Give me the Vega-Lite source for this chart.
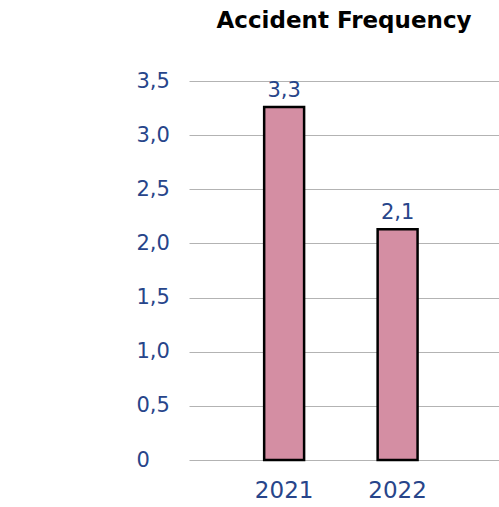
{
  "$schema": "https://vega.github.io/schema/vega-lite/v6.json",
  "autosize": {"type": "none"},
  "padding": {"left": 189, "top": 81, "right": 0, "bottom": 47},
  "width": 310,
  "height": 379,
  "background": "white",
  "title": {"text": "Accident Frequency", "anchor": "middle", "font": "DejaVu Sans", "fontSize": 23, "fontWeight": "bold", "color": "#000000", "offset": 37},
  "data": {"values": [
    {"year": "2021", "value": 3.26},
    {"year": "2022", "value": 2.13}
  ]},
  "config": {"view": {"stroke": null}},
  "encoding": {
    "x": {"field": "year", "type": "nominal", "sort": null,
      "scale": {"paddingInner": 0.648, "paddingOuter": 0.69, "align": 0.48},
      "axis": {"title": null, "domain": false, "ticks": false, "labelAngle": 0, "labelFont": "DejaVu Sans", "labelFontSize": 23, "labelColor": "#27458A", "labelPadding": 19, "labelBaseline": "top"}},
    "y": {"field": "value", "type": "quantitative",
      "scale": {"domain": [0, 3.5], "nice": false},
      "axis": {"title": null, "domain": false, "ticks": false, "tickSize": 0, "values": [0, 0.5, 1, 1.5, 2, 2.5, 3, 3.5],
        "labelExpr": "datum.value == 0 ? '0' : replace(format(datum.value, '.1f'), '.', ',')",
        "labelAlign": "left", "labelPadding": 53, "labelFont": "DejaVu Sans", "labelFontSize": 21, "labelColor": "#27458A",
        "gridColor": "#b3b3b3", "gridWidth": 1}}
  },
  "layer": [
    {"mark": {"type": "bar", "fill": "#D48EA3", "stroke": "#000000", "strokeWidth": 2.5}},
    {"mark": {"type": "text", "baseline": "bottom", "dy": -6, "font": "DejaVu Sans", "fontSize": 21, "color": "#27458A",
      "text": {"expr": "replace(format(datum.value, '.1f'), '.', ',')"}}}
  ]
}
